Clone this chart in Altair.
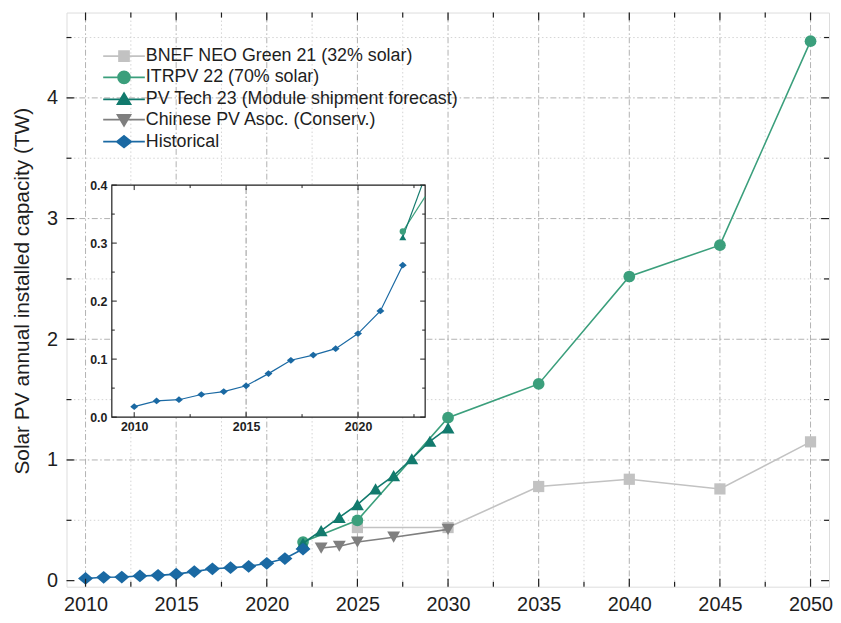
import altair as alt
import pandas as pd

# ---------------- data ----------------
hist_years = list(range(2010, 2023))
hist_vals = [0.018, 0.028, 0.030, 0.039, 0.044, 0.054, 0.075, 0.098, 0.107, 0.118, 0.144, 0.183, 0.262]

itrpv_years = [2022, 2025, 2030, 2035, 2040, 2045, 2050]
itrpv_vals = [0.32, 0.50, 1.35, 1.63, 2.52, 2.78, 4.47]

pvtech_years = [2022, 2023, 2024, 2025, 2026, 2027, 2028, 2029, 2030]
pvtech_vals = [0.31, 0.415, 0.525, 0.63, 0.76, 0.87, 1.01, 1.155, 1.265]

cpia_years = [2023, 2024, 2025, 2027, 2030]
cpia_vals = [0.27, 0.285, 0.32, 0.36, 0.425]

bnef_years = [2025, 2030, 2035, 2040, 2045, 2050]
bnef_vals = [0.44, 0.44, 0.78, 0.84, 0.76, 1.15]

series_names = [
    "BNEF NEO Green 21 (32% solar)",
    "ITRPV 22 (70% solar)",
    "PV Tech 23 (Module shipment forecast)",
    "Chinese PV Asoc. (Conserv.)",
    "Historical",
]
series_colors = ["#c2c2c2", "#3b9f7c", "#127a6d", "#7f7f7f", "#1a69a3"]

x_ticks_major = [2010, 2015, 2020, 2025, 2030, 2035, 2040, 2045, 2050]
x_ticks_minor = [2012.5, 2017.5, 2022.5, 2027.5, 2032.5, 2037.5, 2042.5, 2047.5]
y_ticks_major = [0, 1, 2, 3, 4]
y_ticks_minor = [0.5, 1.5, 2.5, 3.5, 4.5]

inset_x_ticks = [2010, 2015, 2020]
inset_x_minor = [2012.5, 2017.5, 2022.5]
inset_y_ticks = [0.0, 0.1, 0.2, 0.3, 0.4]
inset_y_minor = [0.05, 0.15, 0.25, 0.35]
inset_grid = [2015, 2020]

Y_TITLE = "Solar PV annual installed capacity (TW)"

# ---------------- layout constants ----------------
W, H = 769, 579
X_DOMAIN = [2008.95, 2051.02]
Y_DOMAIN = [-0.05, 4.707]
INSET_X_DOMAIN = [2009, 2023]
INSET_Y_DOMAIN = [0.0, 0.4]
INSET_X_RANGE = [45.7, 361.7]
INSET_Y_RANGE = [408, 174]

FONT = "Liberation Sans, Arial, sans-serif"
FRAME = "#1e1e1e"
TXT = "#1e1e1e"

xs = alt.Scale(domain=X_DOMAIN, nice=False, zero=False)
ys = alt.Scale(domain=Y_DOMAIN, nice=False, zero=False)
ixs = alt.Scale(domain=INSET_X_DOMAIN, range=INSET_X_RANGE, nice=False, zero=False)
iys = alt.Scale(domain=INSET_Y_DOMAIN, range=INSET_Y_RANGE, nice=False, zero=False)

main_xaxis = alt.Axis(values=x_ticks_major, format="d", title=None, grid=False, ticks=False, tickSize=0,
                      domain=False, labelFont=FONT, labelFontSize=20, labelColor=TXT, labelPadding=8,
                      labelFlush=False, labelOverlap=False)
main_yaxis = alt.Axis(values=y_ticks_major, format="d", title=Y_TITLE, titleFont=FONT, titleFontSize=21,
                      titleFontWeight="normal", titleColor=TXT, titleX=-44, titleY=280.5, titleAngle=270,
                      titleAlign="center", titleBaseline="middle", grid=False, ticks=False, tickSize=0,
                      domain=False, labelFont=FONT, labelFontSize=20, labelColor=TXT, labelPadding=9,
                      labelFlush=False, labelOverlap=False)
inset_xaxis = alt.Axis(values=inset_x_ticks, format="d", orient="bottom", offset=-(H - INSET_Y_RANGE[0]),
                       title=None, grid=False, ticks=False, tickSize=0, domain=False, labelFont=FONT,
                       labelFontSize=12.5, labelFontWeight="bold", labelColor=TXT, labelPadding=4,
                       labelFlush=False, labelOverlap=False)
inset_yaxis = alt.Axis(values=inset_y_ticks, format=".1f", orient="left", offset=-INSET_X_RANGE[0],
                       title=None, grid=False, ticks=False, tickSize=0, domain=False, labelFont=FONT,
                       labelFontSize=12.5, labelFontWeight="bold", labelColor=TXT, labelPadding=5,
                       labelFlush=False, labelOverlap=False)


def df_xy(years, vals):
    return pd.DataFrame({"year": years, "value": vals})


# ---------------- main panel ----------------
MAJ_DASH = [6, 2.5, 1.5, 2.5]
MIN_DASH = [1.5, 2.5]

vgrid_minor = alt.Chart(pd.DataFrame({"v": x_ticks_minor})).mark_rule(
    color="#cfcfcf", strokeWidth=0.9, strokeDash=MIN_DASH).encode(
    x=alt.X("v:Q", scale=xs, axis=main_xaxis))
vgrid_major = alt.Chart(pd.DataFrame({"v": x_ticks_major})).mark_rule(
    color="#a8a8a8", strokeWidth=0.9, strokeDash=MAJ_DASH).encode(x=alt.X("v:Q"))
hgrid_minor = alt.Chart(pd.DataFrame({"v": y_ticks_minor})).mark_rule(
    color="#cfcfcf", strokeWidth=0.9, strokeDash=MIN_DASH).encode(
    y=alt.Y("v:Q", scale=ys, axis=main_yaxis))
hgrid_major = alt.Chart(pd.DataFrame({"v": y_ticks_major[1:]})).mark_rule(
    color="#a8a8a8", strokeWidth=0.9, strokeDash=MAJ_DASH).encode(y=alt.Y("v:Q"))

DIAMOND = "M0,-0.85L1,0L0,0.85L-1,0Z"
main_specs = [
    (bnef_years, bnef_vals, series_colors[0], "square", 128),
    (cpia_years, cpia_vals, series_colors[3], "triangle-down", 170),
    (itrpv_years, itrpv_vals, series_colors[1], "circle", 140),
    (pvtech_years, pvtech_vals, series_colors[2], "triangle-up", 170),
    (hist_years, hist_vals, series_colors[4], DIAMOND, 230),
]
series_layers = []
for yrs, vals, col, shp, size in main_specs:
    base = alt.Chart(df_xy(yrs, vals)).encode(x=alt.X("year:Q"), y=alt.Y("value:Q"))
    series_layers.append(base.mark_line(color=col, strokeWidth=1.6))
    series_layers.append(base.mark_point(shape=shp, size=size, filled=True, color=col, opacity=1))


def xtick(vals, at, off):
    return alt.Chart(pd.DataFrame({"v": vals})).mark_rule(
        color=FRAME, strokeWidth=1.2, y2Offset=off).encode(
        x=alt.X("v:Q"), y=alt.datum(at), y2=alt.datum(at))


def ytick(vals, at, off):
    return alt.Chart(pd.DataFrame({"v": vals})).mark_rule(
        color=FRAME, strokeWidth=1.2, x2Offset=off).encode(
        y=alt.Y("v:Q"), x=alt.datum(at), x2=alt.datum(at))


main_ticks = [
    xtick(x_ticks_major, Y_DOMAIN[0], -8), xtick(x_ticks_minor, Y_DOMAIN[0], -5),
    xtick(x_ticks_major, Y_DOMAIN[1], 8), xtick(x_ticks_minor, Y_DOMAIN[1], 5),
    ytick(y_ticks_major, X_DOMAIN[0], 8), ytick(y_ticks_minor, X_DOMAIN[0], 5),
    ytick(y_ticks_major, X_DOMAIN[1], -8), ytick(y_ticks_minor, X_DOMAIN[1], -5),
]

# legend: line + marker symbols built as SVG paths
LINE = "M-4.2,0H4.2"
legend_paths = [
    LINE + "M-1,-1H1V1H-1Z",
    LINE + "M-1.2,0A1.2 1.2 0 1 1 1.2,0A1.2 1.2 0 1 1 -1.2,0Z",
    LINE + "M0,-1.25L1.3,0.95L-1.3,0.95Z",
    LINE + "M0,1.25L1.3,-0.95L-1.3,-0.95Z",
    LINE + "M0,-1.15L1.45,0L0,1.15L-1.45,0Z",
]
leg = alt.Legend(orient="none", legendX=49, legendY=35, title=None, labelFont=FONT, labelFontSize=18,
                 labelColor=TXT, labelLimit=500, symbolSize=100, symbolStrokeWidth=1.8, labelOffset=13,
                 rowPadding=2.3, padding=0, symbolOpacity=1)
legend_layer = alt.Chart(pd.DataFrame({"series": series_names})).transform_filter("false").mark_point(
    filled=True, opacity=1, strokeWidth=1.8).encode(
    color=alt.Color("series:N", scale=alt.Scale(domain=series_names, range=series_colors),
                    sort=series_names, legend=leg),
    stroke=alt.Stroke("series:N", scale=alt.Scale(domain=series_names, range=series_colors),
                      sort=series_names, legend=leg),
    shape=alt.Shape("series:N", scale=alt.Scale(domain=series_names, range=legend_paths),
                    sort=series_names, legend=leg),
)

main = alt.layer(vgrid_minor, vgrid_major, hgrid_minor, hgrid_major, *series_layers, *main_ticks,
                 legend_layer)

# ---------------- inset panel ----------------
def clip_to_inset(x0, y0, x1, y1):
    t = min(1.0, (INSET_X_DOMAIN[1] - x0) / (x1 - x0), (INSET_Y_DOMAIN[1] - y0) / (y1 - y0))
    return x0 + t * (x1 - x0), y0 + t * (y1 - y0)


ix_itrpv = clip_to_inset(itrpv_years[0], itrpv_vals[0], itrpv_years[1], itrpv_vals[1])
ix_pvt = clip_to_inset(pvtech_years[0], pvtech_vals[0], pvtech_years[1], pvtech_vals[1])

inset_bg = alt.Chart(pd.DataFrame({"a": [0]})).mark_rect(fill="white", stroke=FRAME, strokeWidth=1.2).encode(
    x=alt.datum(INSET_X_DOMAIN[0]), x2=alt.datum(INSET_X_DOMAIN[1]),
    y=alt.datum(INSET_Y_DOMAIN[0]), y2=alt.datum(INSET_Y_DOMAIN[1]))
inset_gridl = alt.Chart(pd.DataFrame({"v": inset_grid})).mark_rule(
    color="#8a8a8a", strokeWidth=0.9, strokeDash=MAJ_DASH).encode(
    x=alt.X("v:Q", scale=ixs, axis=inset_xaxis), y=alt.datum(INSET_Y_DOMAIN[0]),
    y2=alt.datum(INSET_Y_DOMAIN[1]))

inset_hist = alt.Chart(df_xy(hist_years, hist_vals)).encode(
    x=alt.X("year:Q"), y=alt.Y("value:Q", scale=iys, axis=inset_yaxis))
inset_itrpv_line = alt.Chart(df_xy([itrpv_years[0], ix_itrpv[0]], [itrpv_vals[0], ix_itrpv[1]])).mark_line(
    color=series_colors[1], strokeWidth=1.2).encode(x="year:Q", y="value:Q")
inset_pvt_line = alt.Chart(df_xy([pvtech_years[0], ix_pvt[0]], [pvtech_vals[0], ix_pvt[1]])).mark_line(
    color=series_colors[2], strokeWidth=1.2).encode(x="year:Q", y="value:Q")
inset_itrpv_pt = alt.Chart(df_xy(itrpv_years[:1], itrpv_vals[:1])).mark_point(
    shape="circle", size=40, filled=True, color=series_colors[1], opacity=1).encode(x="year:Q", y="value:Q")
inset_pvt_pt = alt.Chart(df_xy(pvtech_years[:1], pvtech_vals[:1])).mark_point(
    shape="triangle-up", size=50, filled=True, color=series_colors[2], opacity=1).encode(x="year:Q", y="value:Q")


def ixtick(vals, at, off):
    return alt.Chart(pd.DataFrame({"v": vals})).mark_rule(
        color=FRAME, strokeWidth=1.0, y2Offset=off).encode(
        x=alt.X("v:Q"), y=alt.datum(at), y2=alt.datum(at))


def iytick(vals, at, off):
    return alt.Chart(pd.DataFrame({"v": vals})).mark_rule(
        color=FRAME, strokeWidth=1.0, x2Offset=off).encode(
        y=alt.Y("v:Q"), x=alt.datum(at), x2=alt.datum(at))


inset_ticks = [
    ixtick(inset_x_ticks, INSET_Y_DOMAIN[0], -5), ixtick(inset_x_minor, INSET_Y_DOMAIN[0], -3),
    ixtick(inset_x_ticks, INSET_Y_DOMAIN[1], 5), ixtick(inset_x_minor, INSET_Y_DOMAIN[1], 3),
    iytick(inset_y_ticks, INSET_X_DOMAIN[0], 5), iytick(inset_y_minor, INSET_X_DOMAIN[0], 3),
    iytick(inset_y_ticks, INSET_X_DOMAIN[1], -5), iytick(inset_y_minor, INSET_X_DOMAIN[1], -3),
]

inset = alt.layer(
    inset_bg, inset_gridl,
    inset_hist.mark_line(color=series_colors[4], strokeWidth=1.2),
    inset_itrpv_line, inset_pvt_line, inset_itrpv_pt, inset_pvt_pt,
    inset_hist.mark_point(shape=DIAMOND, size=64, filled=True, color=series_colors[4], opacity=1),
    *inset_ticks,
)

chart = alt.layer(main, inset).resolve_scale(x="independent", y="independent").properties(
    width=W, height=H,
    autosize=alt.AutoSizeParams(type="none"),
    padding={"left": 59, "top": 2, "right": 4, "bottom": 30},
).configure_view(stroke=FRAME, strokeWidth=1.3).configure(background="white")

chart.save("out.html", embed_options={"renderer": "svg", "actions": False})
